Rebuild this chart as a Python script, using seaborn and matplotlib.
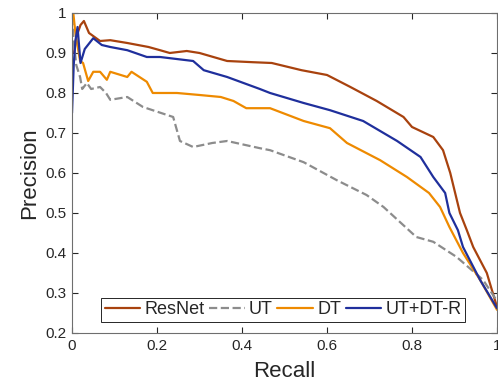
import numpy as np
import pandas as pd
import seaborn as sns
import matplotlib
matplotlib.use('Agg')
import matplotlib.pyplot as plt
from matplotlib.ticker import FormatStrFormatter

# curvas precision-recall
resnet_recall = [0.005, 0.01, 0.02, 0.028, 0.04, 0.066, 0.09, 0.13, 0.18, 0.207, 0.23, 0.27,
                 0.30, 0.365, 0.425, 0.47, 0.54, 0.6, 0.655, 0.717, 0.78, 0.80, 0.85, 0.873,
                 0.89, 0.913, 0.929, 0.944, 0.976, 1.0]
resnet_prec = [0.90, 0.94, 0.97, 0.98, 0.95, 0.93, 0.932, 0.925, 0.915, 0.907, 0.90, 0.905,
               0.90, 0.88, 0.877, 0.875, 0.857, 0.845, 0.815, 0.78, 0.74, 0.715, 0.69, 0.657,
               0.60, 0.50, 0.457, 0.415, 0.35, 0.265]

ut_recall = [0.0, 0.004, 0.01, 0.019, 0.024, 0.035, 0.045, 0.066, 0.08, 0.09, 0.13, 0.167,
             0.238, 0.254, 0.285, 0.33, 0.365, 0.442, 0.466, 0.545, 0.623, 0.693, 0.733,
             0.81, 0.85, 0.905, 0.967, 1.0]
ut_prec = [0.99, 0.93, 0.87, 0.84, 0.81, 0.825, 0.81, 0.815, 0.80, 0.783, 0.79, 0.765,
           0.74, 0.68, 0.665, 0.675, 0.68, 0.662, 0.657, 0.627, 0.582, 0.545, 0.515,
           0.44, 0.428, 0.39, 0.333, 0.28]

dt_recall = [0.003, 0.008, 0.019, 0.026, 0.038, 0.05, 0.066, 0.082, 0.09, 0.13, 0.14, 0.176,
             0.19, 0.247, 0.30, 0.35, 0.38, 0.41, 0.466, 0.545, 0.607, 0.647, 0.725, 0.788,
             0.84, 0.866, 0.888, 0.92, 0.96, 1.0]
dt_prec = [1.0, 0.95, 0.88, 0.875, 0.83, 0.853, 0.853, 0.833, 0.853, 0.84, 0.853, 0.828,
           0.80, 0.80, 0.795, 0.79, 0.78, 0.762, 0.762, 0.73, 0.712, 0.675, 0.632, 0.59,
           0.55, 0.515, 0.465, 0.40, 0.333, 0.258]

utdt_recall = [0.0, 0.004, 0.008, 0.013, 0.018, 0.02, 0.03, 0.05, 0.07, 0.09, 0.13, 0.176,
               0.207, 0.285, 0.31, 0.365, 0.442, 0.466, 0.545, 0.607, 0.685, 0.765, 0.82,
               0.85, 0.878, 0.888, 0.908, 0.92, 0.96, 1.0]
utdt_prec = [0.75, 0.87, 0.93, 0.965, 0.90, 0.875, 0.91, 0.937, 0.92, 0.915, 0.907, 0.89,
             0.89, 0.88, 0.857, 0.84, 0.81, 0.80, 0.775, 0.757, 0.73, 0.68, 0.64,
             0.59, 0.55, 0.50, 0.457, 0.415, 0.333, 0.262]

series = [('ResNet', resnet_recall, resnet_prec, '#A8420E', '-'),
          ('UT', ut_recall, ut_prec, '#8C8C8C', '--'),
          ('DT', dt_recall, dt_prec, '#EE8A00', '-'),
          ('UT+DT-R', utdt_recall, utdt_prec, '#1F2F9C', '-')]

sns.set_style('ticks')
plt.rcParams['font.family'] = ['Liberation Sans', 'DejaVu Sans']

fig = plt.figure(figsize=(4.98, 3.89), dpi=100)
ax = fig.add_axes([0.1446, 0.144, 0.8534, 0.8226])

for name, rx, py, col, ls in series:
    df = pd.DataFrame({'Recall': rx, 'Precision': py})
    sns.lineplot(data=df, x='Recall', y='Precision', ax=ax, color=col, linestyle=ls,
                 linewidth=1.6, sort=False, estimator=None, label=name)

ax.set_xlim(0, 1)
ax.set_ylim(0.2, 1)
ax.set_xticks(np.arange(0, 1.01, 0.2))
ax.set_yticks(np.arange(0.2, 1.01, 0.1))
ax.xaxis.set_major_formatter(FormatStrFormatter('%g'))
ax.yaxis.set_major_formatter(FormatStrFormatter('%g'))
ax.tick_params(direction='in', top=True, right=True, length=4, width=0.8,
               labelsize=11, colors='#262626', pad=4)
for s in ax.spines.values():
    s.set_visible(True)
    s.set_color('#6E6E6E')
    s.set_linewidth(0.8)
ax.set_xlabel('Recall', fontsize=16, color='#262626', labelpad=6)
ax.set_ylabel('Precision', fontsize=16, color='#262626', labelpad=4)

leg = ax.legend(loc='lower center', bbox_to_anchor=(0.497, 0.034), ncol=4, fontsize=13,
                handlelength=1.95, handletextpad=0.25, columnspacing=0.25,
                borderpad=0.2, borderaxespad=0, fancybox=False, framealpha=1)
leg.get_frame().set_edgecolor('#262626')
leg.get_frame().set_linewidth(0.7)

plt.savefig('out.png', dpi=100)
